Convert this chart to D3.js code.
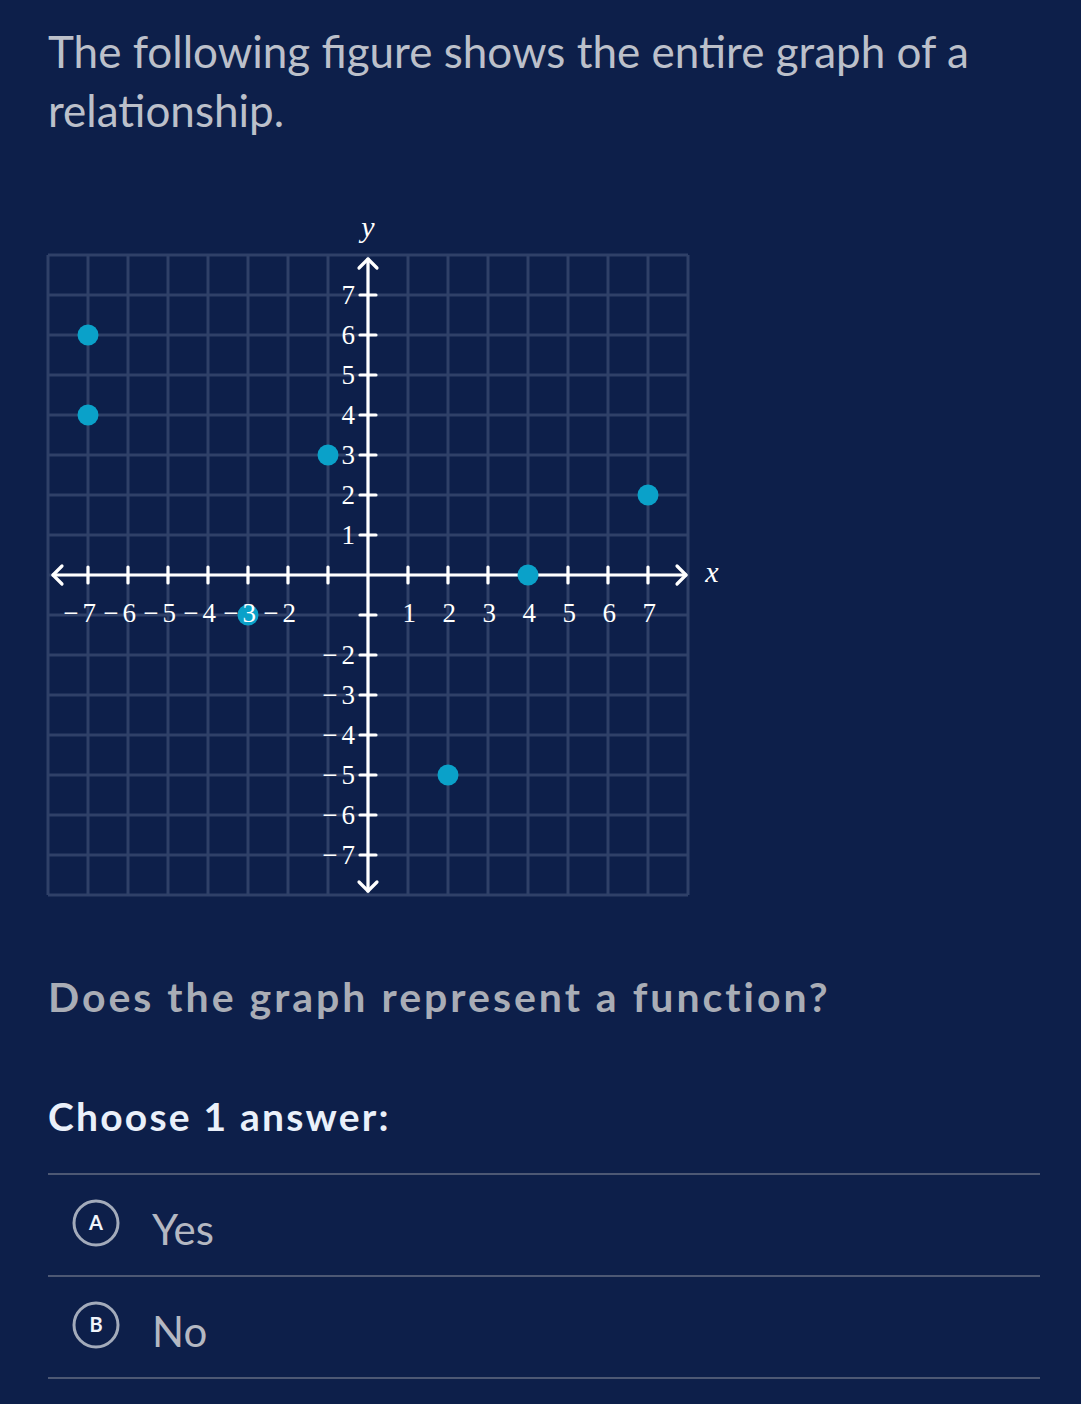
<!DOCTYPE html>
<html><head><meta charset="utf-8">
<script src="https://cdn.jsdelivr.net/npm/d3@7"></script>
<style>
html,body{margin:0;padding:0;background:#0d1f4a;}
svg{display:block;}
</style></head>
<body>
<svg id="c" width="1081" height="1404"></svg>
<script>
const titleLines = ["The following figure shows the entire graph of a", "relationship."];
const question = "Does the graph represent a function?";
const prompt = "Choose 1 answer:";
const choiceLetters = ["A", "B"];
const choiceTexts = ["Yes", "No"];
const xTicks = [-7,-6,-5,-4,-3,-2,-1,1,2,3,4,5,6,7];
const yTicks = [-7,-6,-5,-4,-3,-2,-1,1,2,3,4,5,6,7];
const hiddenLabels = [-1];
const pointX = [-7, -7, -1, 7, 4, -3, 2];
const pointY = [6, 4, 3, 2, 0, -1, -5];

const svg = d3.select("#c");
const bg = "#0d1f4a";
svg.append("rect").attr("width",1081).attr("height",1404).attr("fill",bg);

// Title
svg.append("g").selectAll("text").data(titleLines).join("text")
  .attr("x",48).attr("y",(d,i)=>68+i*59)
  .attr("font-family","Lato").attr("font-size",44).attr("fill","#bcc0ca")
  .text(d=>d);

// Chart
const x = d3.scaleLinear().domain([-8,8]).range([48,688]);
const y = d3.scaleLinear().domain([-8,8]).range([895,255]);
const grid = svg.append("g");
const gridColor = "#2f4068";
grid.selectAll("line.v").data(d3.range(-8,9)).join("line")
  .attr("x1",d=>x(d)).attr("x2",d=>x(d)).attr("y1",y(8)).attr("y2",y(-8))
  .attr("stroke",gridColor).attr("stroke-width",3);
grid.selectAll("line.h").data(d3.range(-8,9)).join("line").attr("class","h")
  .attr("y1",d=>y(d)).attr("y2",d=>y(d)).attr("x1",x(-8)).attr("x2",x(8))
  .attr("stroke",gridColor).attr("stroke-width",3);

const ax = svg.append("g").attr("stroke","#fff").attr("stroke-width",3.2).attr("fill","none").attr("stroke-linecap","round").attr("stroke-linejoin","round");
ax.append("line").attr("x1",x(-8)+5).attr("x2",x(8)-2).attr("y1",y(0)).attr("y2",y(0));
ax.append("line").attr("y1",y(8)+4).attr("y2",y(-8)-4).attr("x1",x(0)).attr("x2",x(0));
const ah = 9;
ax.append("path").attr("d",`M${x(-8)+5+ah},${y(0)-ah} L${x(-8)+5},${y(0)} L${x(-8)+5+ah},${y(0)+ah}`);
ax.append("path").attr("d",`M${x(8)-2-ah},${y(0)-ah} L${x(8)-2},${y(0)} L${x(8)-2-ah},${y(0)+ah}`);
ax.append("path").attr("d",`M${x(0)-ah},${y(8)+4+ah} L${x(0)},${y(8)+4} L${x(0)+ah},${y(8)+4+ah}`);
ax.append("path").attr("d",`M${x(0)-ah},${y(-8)-4-ah} L${x(0)},${y(-8)-4} L${x(0)+ah},${y(-8)-4-ah}`);
ax.selectAll("line.xt").data(xTicks).join("line").attr("class","xt")
  .attr("x1",d=>x(d)).attr("x2",d=>x(d)).attr("y1",y(0)-8).attr("y2",y(0)+8);
ax.selectAll("line.yt").data(yTicks).join("line").attr("class","yt")
  .attr("y1",d=>y(d)).attr("y2",d=>y(d)).attr("x1",x(0)-8).attr("x2",x(0)+8);

// points
svg.append("g").selectAll("circle").data(pointX.map((d,i)=>[d,pointY[i]])).join("circle")
  .attr("cx",d=>x(d[0])).attr("cy",d=>y(d[1])).attr("r",10.5).attr("fill","#0aa1c9");

// tick labels
const lf = "Liberation Serif";
const fs = 27;
const lab = svg.append("g").attr("font-family",lf).attr("font-size",fs).attr("fill","#fff");
function addLabel(sel, d) {
  if (d < 0) sel.append("tspan").attr("letter-spacing",4).text("\u2212");
  sel.append("tspan").text(Math.abs(d));
}
lab.selectAll("text.xl").data(xTicks.filter(d=>!hiddenLabels.includes(d))).join("text")
  .attr("y",y(0)+47).attr("text-anchor","end")
  .attr("x",d=>x(d)+8)
  .each(function(d){ addLabel(d3.select(this), d); });
lab.selectAll("text.yl").data(yTicks.filter(d=>!hiddenLabels.includes(d))).join("text")
  .attr("x",x(0)-13).attr("text-anchor","end").attr("y",d=>y(d)+9)
  .each(function(d){ addLabel(d3.select(this), d); });
lab.append("text").attr("x",x(0)).attr("y",y(8)-18).attr("text-anchor","middle").attr("font-style","italic").attr("font-size",30).text("y");
lab.append("text").attr("x",x(8)+24).attr("y",y(0)+7).attr("text-anchor","middle").attr("font-style","italic").attr("font-size",30).text("x");

// Question
svg.append("text").attr("x",48).attr("y",1012).attr("font-family","Lato").attr("font-weight","bold")
  .attr("font-size",41).attr("letter-spacing",3).attr("fill","#a9adb6").text(question);
svg.append("text").attr("x",48).attr("y",1131).attr("font-family","Lato").attr("font-weight","bold")
  .attr("font-size",39).attr("letter-spacing",2.2).attr("fill","#eaf0fa").text(prompt);

// choices
const rowY = [1174, 1276, 1378];
svg.append("g").selectAll("line").data(rowY).join("line")
  .attr("x1",48).attr("x2",1040).attr("y1",d=>d).attr("y2",d=>d)
  .attr("stroke","#4d5874").attr("stroke-width",2);
const ch = svg.append("g").selectAll("g").data(choiceTexts).join("g")
  .attr("transform",(d,i)=>`translate(0,${(rowY[i]+rowY[i+1])/2 - 2})`);
ch.append("circle").attr("cx",96).attr("cy",0).attr("r",22).attr("fill","none").attr("stroke","#a3abbb").attr("stroke-width",3);
ch.append("text").attr("x",96).attr("y",7).attr("text-anchor","middle").attr("font-family","Lato").attr("font-weight","bold")
  .attr("font-size",20).attr("fill","#f0f4fa").text((d,i)=>choiceLetters[i]);
ch.append("text").attr("x",152).attr("y",22).attr("font-family","Lato").attr("font-size",42).attr("fill","#b4b8c2").text(d=>d);
</script>
</body></html>
